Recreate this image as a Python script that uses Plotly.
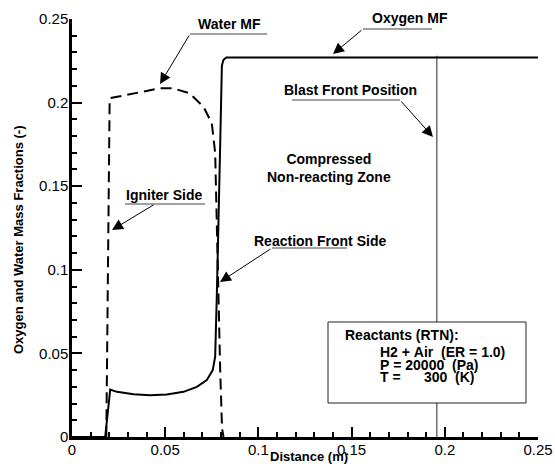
import plotly.graph_objects as go

# ---------------- data ----------------
oxygen_x = [0.0, 0.0178, 0.0205, 0.0241, 0.033, 0.042, 0.0509, 0.0598, 0.067, 0.0723,
            0.0755, 0.0768, 0.0777, 0.0786, 0.0795, 0.0804, 0.0812, 0.0828, 0.25]
oxygen_y = [0.0, 0.0, 0.0284, 0.027, 0.0256, 0.025, 0.0254, 0.027, 0.030, 0.034,
            0.040, 0.048, 0.085, 0.122, 0.175, 0.222, 0.2255, 0.227, 0.227]

water_x = [0.0, 0.0184, 0.0202, 0.033, 0.0474, 0.054, 0.063, 0.0705, 0.075, 0.0768,
           0.0778, 0.0786, 0.0795, 0.0805, 0.0813]
water_y = [0.0, 0.0, 0.2026, 0.2056, 0.2086, 0.2086, 0.2056, 0.1976, 0.1876, 0.170,
           0.120, 0.090, 0.040, 0.005, 0.0]

blast_front_x = 0.1957
blast_front_y = [0.0, 0.228]

axis_range = [0, 0.25]
major_step = 0.05
minor_step = 0.01

reactant_lines = ["Reactants (RTN):", "H2 + Air  (ER = 1.0)", "P = 20000  (Pa)", "T =      300  (K)"]

# ---------------- layout (page pixels; body margin removed) ----------------
W, H = 555, 472
PL, PR, PT, PB = 72, 538, 19, 437          # plot area edges in page pixels
ML, MR, MT, MB = PL, W - PR, PT, H - PB
PW, PH = PR - PL, PB - PT


def PX(px):   # page x -> paper x
    return (px - PL) / PW


def PY(py):   # page y -> paper y
    return (PB - py) / PH


FONT = "Liberation Sans, Arial, sans-serif"

fig = go.Figure()

fig.add_trace(go.Scatter(x=[blast_front_x, blast_front_x], y=blast_front_y, mode="lines",
                         line=dict(color="#6e6e6e", width=1.5), showlegend=False, hoverinfo="skip"))
fig.add_trace(go.Scatter(x=water_x, y=water_y, mode="lines",
                         line=dict(color="black", width=2, dash="11px,6px"), showlegend=False))
fig.add_trace(go.Scatter(x=oxygen_x, y=oxygen_y, mode="lines",
                         line=dict(color="black", width=2), showlegend=False))

shapes = []
annotations = []

labels = [
    # text, text center px, underline (x0,x1,y), arrow tail, arrow head
    ("Water MF", (229, 24), (190, 267, 34), (190, 34), (160, 84)),
    ("Oxygen MF", (410, 18), (363, 432, 29), (363, 29), (333, 54)),
    ("Blast Front Position", (350, 90), (292, 400, 100), (400, 100), (433, 137)),
    ("Igniter Side", (164, 195), (125, 205, 204), (155, 204), (112, 230)),
    ("Reaction Front Side", (320, 241), (272, 347, 248), (272, 248), (220, 282)),
]
for text, (tx, ty), (ux0, ux1, uy), (ax, ay), (hx, hy) in labels:
    annotations.append(dict(x=PX(tx), y=PY(ty), xref="paper", yref="paper", text="<b>%s</b>" % text,
                            showarrow=False, font=dict(family=FONT, size=14, color="black"),
                            xanchor="center", yanchor="middle"))
    shapes.append(dict(type="line", xref="paper", yref="paper", x0=PX(ux0), x1=PX(ux1),
                       y0=PY(uy), y1=PY(uy), line=dict(color="#444444", width=1)))
    annotations.append(dict(x=PX(hx), y=PY(hy), xref="paper", yref="paper",
                            ax=ax - hx, ay=ay - hy, axref="pixel", ayref="pixel",
                            text="", showarrow=True,
                            arrowhead=2, arrowsize=2.2, arrowwidth=1, arrowcolor="black",
                            standoff=0, startstandoff=0))

annotations.append(dict(x=PX(329), y=PY(168), xref="paper", yref="paper",
                        text="<b>Compressed</b><br><b>Non-reacting Zone</b>", showarrow=False,
                        font=dict(family=FONT, size=14, color="black"), xanchor="center", yanchor="middle"))

# reactant box
shapes.append(dict(type="rect", xref="paper", yref="paper", x0=PX(328), x1=PX(526), y0=PY(403), y1=PY(322),
                   line=dict(color="#222222", width=1), fillcolor="white", layer="above"))
box_rows = [(343, 335), (378, 352), (378, 365), (378, 377)]
for line_txt, (bx, by) in zip(reactant_lines, box_rows):
    annotations.append(dict(x=PX(bx), y=PY(by), xref="paper", yref="paper",
                            text="<b>%s</b>" % line_txt.replace(" ", "\u00a0"), showarrow=False,
                            font=dict(family=FONT, size=14, color="black"), xanchor="left", yanchor="middle"))

# axis titles
annotations.append(dict(x=PX(309), y=PY(456), xref="paper", yref="paper",
                        text="<b>Distance (m)</b>", showarrow=False,
                        font=dict(family=FONT, size=13, color="black"), xanchor="center", yanchor="middle"))
annotations.append(dict(x=PX(19), y=PY(240), xref="paper", yref="paper",
                        text="<b>Oxygen and Water Mass Fractions (-)</b>", showarrow=False, textangle=-90,
                        font=dict(family=FONT, size=13, color="black"), xanchor="center", yanchor="middle"))

axis_common = dict(
    range=axis_range, tick0=0, dtick=major_step, automargin=False,
    ticks="inside", ticklen=10, tickwidth=2, tickcolor="black",
    minor=dict(ticks="inside", ticklen=5, tickwidth=1.5, tickcolor="black", dtick=minor_step, showgrid=False),
    showgrid=False, zeroline=False, showline=True, linecolor="black", linewidth=2.5,
    ticklabeloverflow="allow",
    tickfont=dict(family=FONT, size=15, color="black"),
)

fig.update_layout(
    width=W, height=H,
    margin=dict(l=ML, r=MR, t=MT, b=MB, autoexpand=False),
    paper_bgcolor="white", plot_bgcolor="white",
    xaxis=dict(ticklabelstandoff=-3, **axis_common),
    yaxis=dict(ticklabelstandoff=-2, **axis_common),
    shapes=shapes, annotations=annotations, showlegend=False,
)

fig.write_html("out.html", config={"displayModeBar": False},
               post_script="document.body.style.margin='0px';")
